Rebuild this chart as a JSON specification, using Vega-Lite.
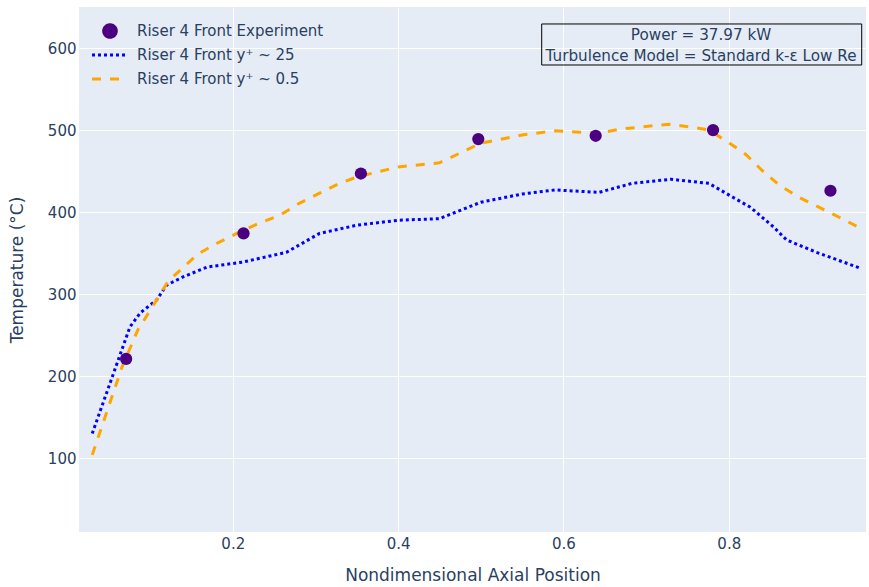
{
  "$schema": "https://vega.github.io/schema/vega-lite/v6.json",
  "autosize": {"type": "none"},
  "width": 787,
  "height": 525,
  "padding": {"left": 79, "top": 7, "right": 3, "bottom": 55},
  "background": "white",
  "config": {
    "view": {"fill": "#e5ecf6", "stroke": null},
    "font": "DejaVu Sans",
    "axis": {
      "domain": false, "ticks": false, "grid": true, "gridColor": "white", "gridWidth": 1,
      "labelFont": "DejaVu Sans", "labelFontSize": 15, "labelColor": "#2a3f5f",
      "titleFont": "DejaVu Sans", "titleFontSize": 17, "titleColor": "#2a3f5f", "titleFontWeight": "normal"
    },
    "legend": {
      "orient": "none", "legendX": 11.5, "legendY": 12.25, "padding": 0,
      "symbolSize": 400, "labelOffset": 23.5, "rowPadding": 0, "clipHeight": 23.5,
      "labelFont": "DejaVu Sans", "labelFontSize": 15, "labelColor": "#2a3f5f", "labelLimit": 400
    }
  },
  "datasets": {
    "sim": [
      {"series": "Riser 4 Front y⁺ ~ 25", "x": 0.030, "t": 130},
      {"series": "Riser 4 Front y⁺ ~ 25", "x": 0.0756, "t": 260},
      {"series": "Riser 4 Front y⁺ ~ 25", "x": 0.088, "t": 277},
      {"series": "Riser 4 Front y⁺ ~ 25", "x": 0.108, "t": 293},
      {"series": "Riser 4 Front y⁺ ~ 25", "x": 0.120, "t": 311},
      {"series": "Riser 4 Front y⁺ ~ 25", "x": 0.140, "t": 321},
      {"series": "Riser 4 Front y⁺ ~ 25", "x": 0.169, "t": 333},
      {"series": "Riser 4 Front y⁺ ~ 25", "x": 0.212, "t": 339},
      {"series": "Riser 4 Front y⁺ ~ 25", "x": 0.265, "t": 351},
      {"series": "Riser 4 Front y⁺ ~ 25", "x": 0.305, "t": 374},
      {"series": "Riser 4 Front y⁺ ~ 25", "x": 0.350, "t": 384},
      {"series": "Riser 4 Front y⁺ ~ 25", "x": 0.400, "t": 390},
      {"series": "Riser 4 Front y⁺ ~ 25", "x": 0.450, "t": 392},
      {"series": "Riser 4 Front y⁺ ~ 25", "x": 0.500, "t": 412},
      {"series": "Riser 4 Front y⁺ ~ 25", "x": 0.550, "t": 422},
      {"series": "Riser 4 Front y⁺ ~ 25", "x": 0.590, "t": 427},
      {"series": "Riser 4 Front y⁺ ~ 25", "x": 0.643, "t": 424},
      {"series": "Riser 4 Front y⁺ ~ 25", "x": 0.683, "t": 435},
      {"series": "Riser 4 Front y⁺ ~ 25", "x": 0.730, "t": 440},
      {"series": "Riser 4 Front y⁺ ~ 25", "x": 0.776, "t": 435},
      {"series": "Riser 4 Front y⁺ ~ 25", "x": 0.805, "t": 418},
      {"series": "Riser 4 Front y⁺ ~ 25", "x": 0.826, "t": 406},
      {"series": "Riser 4 Front y⁺ ~ 25", "x": 0.854, "t": 382},
      {"series": "Riser 4 Front y⁺ ~ 25", "x": 0.870, "t": 366},
      {"series": "Riser 4 Front y⁺ ~ 25", "x": 0.906, "t": 351},
      {"series": "Riser 4 Front y⁺ ~ 25", "x": 0.958, "t": 332},
      {"series": "Riser 4 Front y⁺ ~ 0.5", "x": 0.030, "t": 104},
      {"series": "Riser 4 Front y⁺ ~ 0.5", "x": 0.066, "t": 211},
      {"series": "Riser 4 Front y⁺ ~ 0.5", "x": 0.085, "t": 256},
      {"series": "Riser 4 Front y⁺ ~ 0.5", "x": 0.108, "t": 293},
      {"series": "Riser 4 Front y⁺ ~ 0.5", "x": 0.122, "t": 316},
      {"series": "Riser 4 Front y⁺ ~ 0.5", "x": 0.158, "t": 349},
      {"series": "Riser 4 Front y⁺ ~ 0.5", "x": 0.181, "t": 362},
      {"series": "Riser 4 Front y⁺ ~ 0.5", "x": 0.205, "t": 374},
      {"series": "Riser 4 Front y⁺ ~ 0.5", "x": 0.233, "t": 387},
      {"series": "Riser 4 Front y⁺ ~ 0.5", "x": 0.257, "t": 396},
      {"series": "Riser 4 Front y⁺ ~ 0.5", "x": 0.281, "t": 411},
      {"series": "Riser 4 Front y⁺ ~ 0.5", "x": 0.305, "t": 423},
      {"series": "Riser 4 Front y⁺ ~ 0.5", "x": 0.329, "t": 435},
      {"series": "Riser 4 Front y⁺ ~ 0.5", "x": 0.351, "t": 443},
      {"series": "Riser 4 Front y⁺ ~ 0.5", "x": 0.400, "t": 455},
      {"series": "Riser 4 Front y⁺ ~ 0.5", "x": 0.450, "t": 460},
      {"series": "Riser 4 Front y⁺ ~ 0.5", "x": 0.500, "t": 484},
      {"series": "Riser 4 Front y⁺ ~ 0.5", "x": 0.550, "t": 494},
      {"series": "Riser 4 Front y⁺ ~ 0.5", "x": 0.590, "t": 499},
      {"series": "Riser 4 Front y⁺ ~ 0.5", "x": 0.643, "t": 496},
      {"series": "Riser 4 Front y⁺ ~ 0.5", "x": 0.668, "t": 501},
      {"series": "Riser 4 Front y⁺ ~ 0.5", "x": 0.696, "t": 504},
      {"series": "Riser 4 Front y⁺ ~ 0.5", "x": 0.728, "t": 507},
      {"series": "Riser 4 Front y⁺ ~ 0.5", "x": 0.752, "t": 504},
      {"series": "Riser 4 Front y⁺ ~ 0.5", "x": 0.776, "t": 500},
      {"series": "Riser 4 Front y⁺ ~ 0.5", "x": 0.801, "t": 484},
      {"series": "Riser 4 Front y⁺ ~ 0.5", "x": 0.821, "t": 470},
      {"series": "Riser 4 Front y⁺ ~ 0.5", "x": 0.840, "t": 451},
      {"series": "Riser 4 Front y⁺ ~ 0.5", "x": 0.861, "t": 433},
      {"series": "Riser 4 Front y⁺ ~ 0.5", "x": 0.885, "t": 418},
      {"series": "Riser 4 Front y⁺ ~ 0.5", "x": 0.909, "t": 406},
      {"series": "Riser 4 Front y⁺ ~ 0.5", "x": 0.933, "t": 394},
      {"series": "Riser 4 Front y⁺ ~ 0.5", "x": 0.960, "t": 380}
    ],
    "exp": [
      {"series": "Riser 4 Front Experiment", "x": 0.071, "t": 221},
      {"series": "Riser 4 Front Experiment", "x": 0.213, "t": 374},
      {"series": "Riser 4 Front Experiment", "x": 0.355, "t": 447},
      {"series": "Riser 4 Front Experiment", "x": 0.497, "t": 489},
      {"series": "Riser 4 Front Experiment", "x": 0.639, "t": 493},
      {"series": "Riser 4 Front Experiment", "x": 0.781, "t": 500},
      {"series": "Riser 4 Front Experiment", "x": 0.923, "t": 426}
    ],
    "note": [
      {"line1": "Power = 37.97 kW", "line2": "Turbulence Model = Standard k-ε Low Re"}
    ]
  },
  "layer": [
    {
      "data": {"name": "sim"},
      "mark": {"type": "line", "strokeWidth": 3, "strokeCap": "butt"},
      "encoding": {
        "x": {
          "field": "x", "type": "quantitative",
          "scale": {"domain": [0.014, 0.966], "nice": false, "zero": false},
          "axis": {"values": [0.2, 0.4, 0.6, 0.8], "format": ".1f", "labelPadding": 4.5, "titlePadding": 16, "title": "Nondimensional Axial Position"}
        },
        "y": {
          "field": "t", "type": "quantitative",
          "scale": {"domain": [10, 650], "nice": false, "zero": false},
          "axis": {"values": [100, 200, 300, 400, 500, 600], "labelPadding": 3, "titlePadding": 21, "title": "Temperature (°C)"}
        },
        "color": {
          "field": "series", "type": "nominal",
          "scale": {
            "domain": ["Riser 4 Front Experiment", "Riser 4 Front y⁺ ~ 25", "Riser 4 Front y⁺ ~ 0.5"],
            "range": ["#4b0082", "#0000ff", "#ffa500"]
          },
          "legend": {
            "title": null,
            "encode": {
              "symbols": {
                "update": {
                  "shape": {"signal": "datum.index === 0 ? 'M0.17,0A0.63,0.63,0,1,0,1.43,0A0.63,0.63,0,1,0,0.17,0Z' : 'M-1,0L2.5,0'"},
                  "size": {"value": 400},
                  "fill": {"signal": "datum.index === 0 ? '#4b0082' : 'transparent'"},
                  "stroke": {"signal": "datum.index === 0 ? 'transparent' : (datum.index === 1 ? '#0000ff' : '#ffa500')"},
                  "strokeWidth": {"value": 3},
                  "strokeDash": {"signal": "datum.index === 1 ? [3, 3] : (datum.index === 2 ? [9, 9] : [1, 0])"},
                  "opacity": {"value": 1},
                  "fillOpacity": {"value": 1},
                  "strokeOpacity": {"value": 1}
                }
              }
            }
          }
        },
        "strokeDash": {
          "field": "series", "type": "nominal",
          "scale": {"domain": ["Riser 4 Front y⁺ ~ 25", "Riser 4 Front y⁺ ~ 0.5"], "range": [[3, 3], [9, 9]]},
          "legend": null
        }
      }
    },
    {
      "data": {"name": "exp"},
      "mark": {"type": "point", "filled": true, "shape": "circle", "size": 150, "opacity": 1},
      "encoding": {
        "x": {"field": "x", "type": "quantitative"},
        "y": {"field": "t", "type": "quantitative"},
        "color": {"field": "series", "type": "nominal"}
      }
    },
    {
      "data": {"name": "note"},
      "mark": {"type": "rect", "fill": "transparent", "stroke": "black", "strokeWidth": 1},
      "encoding": {
        "x": {"datum": 0.5737, "type": "quantitative"},
        "x2": {"datum": 0.9608},
        "y": {"datum": 629.3, "type": "quantitative"},
        "y2": {"datum": 579.3}
      }
    },
    {
      "data": {"name": "note"},
      "mark": {"type": "text", "font": "DejaVu Sans", "fontSize": 15.2, "color": "#2a3f5f", "align": "center", "baseline": "middle"},
      "encoding": {
        "x": {"datum": 0.7665, "type": "quantitative"},
        "y": {"datum": 615.8, "type": "quantitative"},
        "text": {"field": "line1"}
      }
    },
    {
      "data": {"name": "note"},
      "mark": {"type": "text", "font": "DejaVu Sans", "fontSize": 15.2, "color": "#2a3f5f", "align": "center", "baseline": "middle"},
      "encoding": {
        "x": {"datum": 0.7665, "type": "quantitative"},
        "y": {"datum": 590.8, "type": "quantitative"},
        "text": {"field": "line2"}
      }
    }
  ]
}
